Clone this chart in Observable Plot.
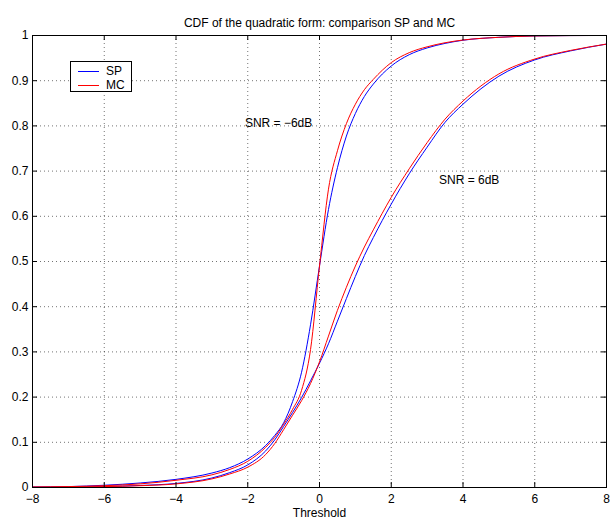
<!DOCTYPE html>
<html>
<head>
<meta charset="utf-8">
<script src="https://cdn.jsdelivr.net/npm/d3@7"></script>
<script src="https://cdn.jsdelivr.net/npm/@observablehq/plot@0.6"></script>
<style>
  html, body { margin: 0; padding: 0; background: #fff; }
  #wrap { position: relative; width: 610px; height: 518px; font-family: "Liberation Sans", Arial, Helvetica, sans-serif; }
  #legend { position: absolute; left: 70px; top: 61px; width: 60px; height: 29px; border: 1.5px solid #000; background: #fff; font-size: 12px; }
  #legend .row { position: absolute; left: 0; height: 14px; }
  #legend .sw { position: absolute; left: 7px; width: 21px; height: 1px; }
  #legend .lb { position: absolute; left: 35px; line-height: 14px; }
</style>
</head>
<body>
<div id="wrap"></div>
<script>
// ---- data ----
const xs    = [-8, -7, -6, -5, -4, -3, -2.5, -2, -1.5, -1.25, -1, -0.75, -0.5, -0.25, 0, 0.25, 0.5, 0.75, 1, 1.25, 1.5, 2, 2.5, 3, 3.5, 4, 5, 6, 7, 8];
// SNR = -6dB
const spM6  = [0.001, 0.002, 0.005, 0.010, 0.018, 0.032, 0.044, 0.063, 0.093, 0.115, 0.143, 0.19, 0.255, 0.36, 0.49, 0.615, 0.7075, 0.7775, 0.8275, 0.865, 0.8925, 0.9325, 0.9575, 0.9725, 0.9825, 0.9895, 0.996, 0.999, 0.9998, 1.0];
const mcM6  = [0.001, 0.002, 0.004, 0.008, 0.016, 0.028, 0.040, 0.058, 0.089, 0.111, 0.140, 0.173, 0.215, 0.305, 0.49, 0.66, 0.745, 0.805, 0.848, 0.88, 0.903, 0.94, 0.962, 0.975, 0.984, 0.99, 0.996, 0.999, 0.9998, 1.0];
// SNR = 6dB
const spP6  = [0.0005, 0.001, 0.002, 0.0045, 0.009, 0.021, 0.033, 0.050, 0.081, 0.105, 0.135, 0.166, 0.199, 0.236, 0.275, 0.318, 0.368, 0.418, 0.467, 0.513, 0.553, 0.627, 0.694, 0.753, 0.808, 0.848, 0.91, 0.946, 0.966, 0.981];
const mcP6  = [0.0005, 0.001, 0.002, 0.004, 0.008, 0.019, 0.030, 0.045, 0.073, 0.097, 0.128, 0.160, 0.192, 0.230, 0.278, 0.335, 0.392, 0.443, 0.49, 0.532, 0.57, 0.642, 0.705, 0.763, 0.815, 0.855, 0.915, 0.948, 0.967, 0.981];

const xTicks = [-8, -6, -4, -2, 0, 2, 4, 6, 8];
const yTicks = [0, 0.1, 0.2, 0.3, 0.4, 0.5, 0.6, 0.7, 0.8, 0.9, 1];
const yTickLabels = ["0", "0.1", "0.2", "0.3", "0.4", "0.5", "0.6", "0.7", "0.8", "0.9", "1"];

const annoText = ["SNR = \u22126dB", "SNR = 6dB"];
const annoX = [-2.08, 3.33];
const annoY = [0.807, 0.679];

const titleText = "CDF of the quadratic form: comparison SP and MC";
const xLabel = "Threshold";

const seriesDefs = [
  {name: "SP", snr: "-6", ys: spM6, color: "#0000ff"},
  {name: "SP", snr: "6",  ys: spP6, color: "#0000ff"},
  {name: "MC", snr: "-6", ys: mcM6, color: "#ff0000"},
  {name: "MC", snr: "6",  ys: mcP6, color: "#ff0000"}
];
const rows = seriesDefs.flatMap(s => xs.map((x, i) => ({x, y: s.ys[i], key: s.name + s.snr, color: s.color})));
const annos = annoText.map((t, i) => ({t, x: annoX[i], y: annoY[i]}));

const W = 610, H = 518, mL = 32, mR = 4, mT = 35, mB = 31;
const innerW = W - mL - mR, innerH = H - mT - mB;
const tick = 5;

const chart = Plot.plot({
  width: W, height: H,
  marginLeft: mL, marginRight: mR, marginTop: mT, marginBottom: mB,
  style: {fontFamily: '"Liberation Sans", Arial, Helvetica, sans-serif', fontSize: "12px", color: "#000", background: "#fff"},
  x: {domain: [-8, 8]},
  y: {domain: [0, 1]},
  marks: [
    Plot.gridX(xTicks, {stroke: "#000", strokeOpacity: 0.55, strokeDasharray: "1,3"}),
    Plot.gridY(yTicks, {stroke: "#000", strokeOpacity: 0.55, strokeDasharray: "1,3"}),
    Plot.line(rows, {x: "x", y: "y", z: "key", stroke: "color", strokeWidth: 1, curve: "monotone-x"}),
    Plot.tickX(xTicks, {x: d => d, insetTop: innerH - tick, stroke: "#000"}),
    Plot.tickX(xTicks, {x: d => d, insetBottom: innerH - tick, stroke: "#000"}),
    Plot.tickY(yTicks, {y: d => d, insetRight: innerW - tick, stroke: "#000"}),
    Plot.tickY(yTicks, {y: d => d, insetLeft: innerW - tick, stroke: "#000"}),
    Plot.frame({stroke: "#000"}),
    Plot.axisX(xTicks, {tickSize: 0, tickPadding: 7, fontSize: 12, label: xLabel, labelAnchor: "center", labelArrow: "none", labelOffset: 29}),
    Plot.axisY(yTicks, {tickSize: 0, tickPadding: 4, fontSize: 12, tickFormat: (d, i) => yTickLabels[i], label: null}),
    Plot.text(annos, {x: "x", y: "y", text: "t", textAnchor: "start", fontSize: 12, fill: "#000"}),
    Plot.text([titleText], {frameAnchor: "top", dy: -17, fontSize: 12, fill: "#000"})
  ]
});
const wrap = document.getElementById("wrap");
wrap.appendChild(chart);

const legend = document.createElement("div");
legend.id = "legend";
[["SP", "#0000ff", 2], ["MC", "#ff0000", 16]].forEach(([t, c, top]) => {
  const r = document.createElement("div");
  r.className = "row"; r.style.top = top + "px"; r.style.width = "60px";
  const sw = document.createElement("div"); sw.className = "sw"; sw.style.background = c; sw.style.top = "7px";
  const lb = document.createElement("div"); lb.className = "lb"; lb.textContent = t;
  r.appendChild(sw); r.appendChild(lb); legend.appendChild(r);
});
wrap.appendChild(legend);
</script>
</body>
</html>
